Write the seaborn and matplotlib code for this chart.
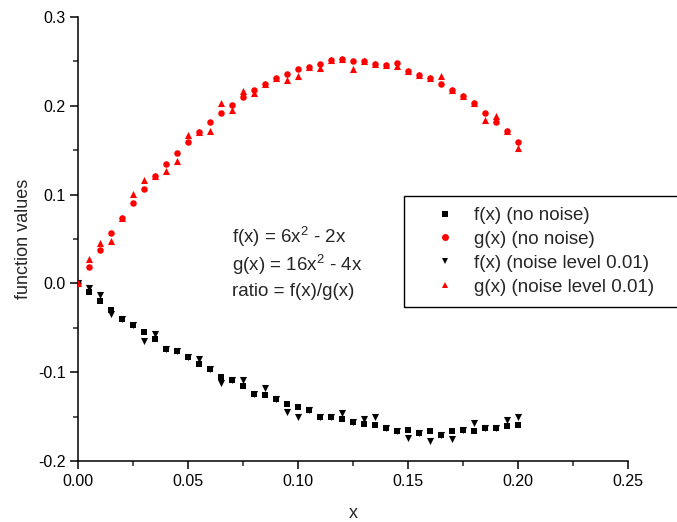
import matplotlib
matplotlib.use("Agg")
import matplotlib.pyplot as plt
import seaborn as sns
import pandas as pd
from matplotlib.patches import Rectangle

x = [0.000, 0.005, 0.010, 0.015, 0.020, 0.025, 0.030, 0.035, 0.040, 0.045,
     0.050, 0.055, 0.060, 0.065, 0.070, 0.075, 0.080, 0.085, 0.090, 0.095,
     0.100, 0.105, 0.110, 0.115, 0.120, 0.125, 0.130, 0.135, 0.140, 0.145,
     0.150, 0.155, 0.160, 0.165, 0.170, 0.175, 0.180, 0.185, 0.190, 0.195, 0.200]

f_clean = [0.000, -0.010, -0.020, -0.030, -0.040, -0.047, -0.055, -0.063, -0.074, -0.076,
           -0.083, -0.091, -0.096, -0.105, -0.109, -0.116, -0.124, -0.126, -0.130, -0.136,
           -0.139, -0.143, -0.151, -0.150, -0.153, -0.156, -0.158, -0.160, -0.163, -0.166,
           -0.165, -0.168, -0.166, -0.171, -0.166, -0.165, -0.166, -0.163, -0.163, -0.161, -0.160]

g_clean = [0.000, 0.019, 0.038, 0.057, 0.074, 0.090, 0.106, 0.121, 0.134, 0.147,
           0.159, 0.170, 0.182, 0.192, 0.201, 0.210, 0.218, 0.224, 0.231, 0.236,
           0.241, 0.244, 0.247, 0.252, 0.253, 0.251, 0.250, 0.247, 0.246, 0.248,
           0.239, 0.235, 0.231, 0.225, 0.218, 0.211, 0.203, 0.192, 0.182, 0.172, 0.159]

f_noise = [0.000, -0.005, -0.013, -0.035, -0.040, -0.047, -0.065, -0.057, -0.074, -0.076,
           -0.083, -0.085, -0.096, -0.112, -0.109, -0.109, -0.124, -0.118, -0.130, -0.145,
           -0.150, -0.143, -0.151, -0.150, -0.146, -0.156, -0.153, -0.151, -0.163, -0.166,
           -0.174, -0.168, -0.178, -0.171, -0.175, -0.165, -0.157, -0.163, -0.163, -0.154, -0.151]

g_noise = [0.000, 0.028, 0.046, 0.048, 0.074, 0.101, 0.117, 0.121, 0.127, 0.138,
           0.167, 0.170, 0.172, 0.203, 0.195, 0.217, 0.214, 0.224, 0.231, 0.229,
           0.233, 0.244, 0.243, 0.252, 0.253, 0.242, 0.250, 0.247, 0.246, 0.245,
           0.239, 0.235, 0.231, 0.233, 0.218, 0.211, 0.203, 0.184, 0.189, 0.172, 0.152]

series_names = ["f(x) (no noise)", "g(x) (no noise)",
                "f(x) (noise level 0.01)", "g(x) (noise level 0.01)"]
annotation_lines = ["f(x) = 6x$^{2}$ - 2x", "g(x) = 16x$^{2}$ - 4x", "ratio = f(x)/g(x)"]

frames = []
for name, vals in zip(series_names, [f_clean, g_clean, f_noise, g_noise]):
    frames.append(pd.DataFrame({"x": x, "y": vals, "series": name}))
df = pd.concat(frames, ignore_index=True)

sns.set_theme(style="ticks")
plt.rcParams["font.family"] = ["Liberation Sans", "DejaVu Sans"]
plt.rcParams["mathtext.fontset"] = "custom"
plt.rcParams["mathtext.rm"] = "Liberation Sans"

fig = plt.figure(figsize=(6.77, 5.22), dpi=100)
ax = fig.add_axes([78/677, 1 - 461/522, 550/677, 444/522])

palette = {series_names[0]: "black", series_names[1]: "red",
           series_names[2]: "black", series_names[3]: "red"}
markers = {series_names[0]: "s", series_names[1]: "o",
           series_names[2]: "v", series_names[3]: "^"}
sizes = {series_names[0]: 14, series_names[1]: 22,
         series_names[2]: 26, series_names[3]: 26}

for name in series_names:
    sub = df[df["series"] == name]
    sns.scatterplot(data=sub, x="x", y="y", color=palette[name], marker=markers[name],
                    s=sizes[name], linewidth=0, ax=ax, label=name, legend=False, zorder=3)

ax.set_xlim(0, 0.25)
ax.set_ylim(-0.2, 0.3)
ax.set_xticks([0.0, 0.05, 0.10, 0.15, 0.20, 0.25])
ax.set_xticklabels(["0.00", "0.05", "0.10", "0.15", "0.20", "0.25"])
ax.set_xticks([0.025, 0.075, 0.125, 0.175, 0.225], minor=True)
ax.set_yticks([-0.2, -0.1, 0.0, 0.1, 0.2, 0.3])
ax.set_yticklabels(["-0.2", "-0.1", "0.0", "0.1", "0.2", "0.3"])
ax.set_yticks([-0.15, -0.05, 0.05, 0.15, 0.25], minor=True)
ax.tick_params(axis="both", which="major", length=6, width=1.1, labelsize=11.5,
               colors="black", direction="out", pad=3)
ax.tick_params(axis="both", which="minor", length=3.5, width=1.1, direction="out")
for side in ["top", "right"]:
    ax.spines[side].set_visible(False)
for side in ["left", "bottom"]:
    ax.spines[side].set_linewidth(1.1)
    ax.spines[side].set_color("black")

ax.set_xlabel("x", fontsize=13, labelpad=12)
ax.set_ylabel("function values", fontsize=13, labelpad=4)

# annotation text
ann_y = [237, 265, 292]
for line, py in zip(annotation_lines, ann_y):
    fig.text(232/677, 1 - py/522, line, fontsize=13.5, ha="left", va="center")

# legend
handles = [plt.Line2D([], [], linestyle="none", marker=markers[n], color=palette[n],
                      markersize=4 if markers[n] == "s" else 5, markeredgewidth=0)
           for n in series_names]
leg = fig.legend(handles, series_names, loc="upper left",
                 bbox_to_anchor=(436/677, 1 - 207/522), frameon=False,
                 fontsize=13.5, handlelength=1.0, handletextpad=1.05,
                 borderaxespad=0, borderpad=0, labelspacing=0.36)
fig.patches.append(Rectangle((404/677, 1 - 307/522), 300/677, 111/522,
                             transform=fig.transFigure, fill=False,
                             edgecolor="black", linewidth=1.0, clip_on=False))

fig.savefig("out.png", dpi=100)
